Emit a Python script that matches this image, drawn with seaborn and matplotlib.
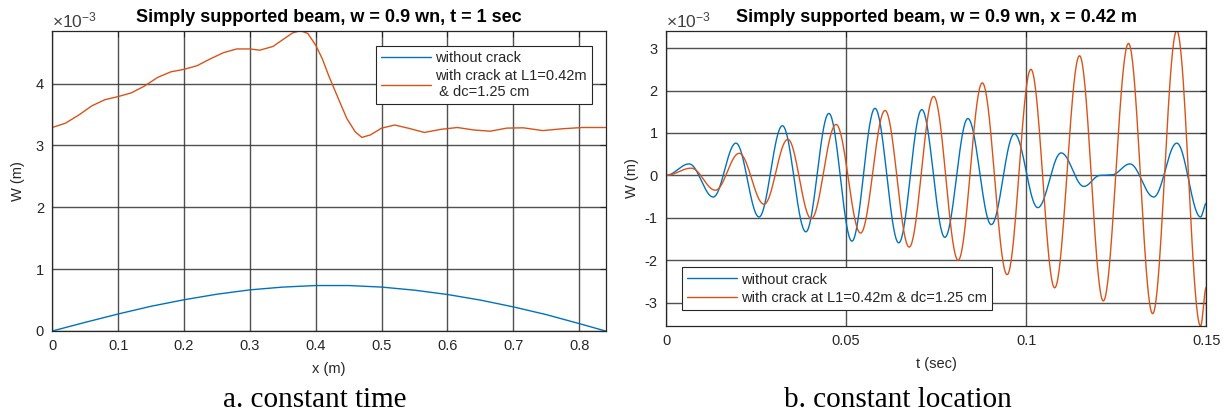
import numpy as np
import pandas as pd
import matplotlib
matplotlib.use("Agg")
import matplotlib.pyplot as plt
import seaborn as sns

# ---------------- data (W in units of 1e-3 m) ----------------
# (a) deflection along the beam at t = 1 s
x_intact = [0.0, 0.05, 0.10, 0.15, 0.20, 0.25, 0.30, 0.35, 0.40, 0.45,
            0.50, 0.55, 0.60, 0.65, 0.70, 0.75, 0.80, 0.84]
w_intact = [0.0, 0.14, 0.275, 0.40, 0.505, 0.595, 0.665, 0.71, 0.735, 0.735,
            0.71, 0.66, 0.59, 0.50, 0.39, 0.265, 0.12, 0.0]

x_cracked = [0.0, 0.02, 0.04, 0.06, 0.08, 0.10, 0.12, 0.14, 0.16, 0.18,
             0.20, 0.22, 0.24, 0.26, 0.28, 0.30, 0.315, 0.335, 0.35, 0.365,
             0.377, 0.388, 0.40, 0.41, 0.42, 0.435, 0.447, 0.46, 0.47, 0.483,
             0.50, 0.52, 0.54, 0.565, 0.59, 0.615, 0.64, 0.665, 0.69, 0.715,
             0.745, 0.775, 0.805, 0.84]
w_cracked = [3.29, 3.36, 3.49, 3.64, 3.74, 3.79, 3.85, 3.96, 4.10, 4.19,
             4.23, 4.29, 4.40, 4.50, 4.56, 4.56, 4.54, 4.60, 4.71, 4.82,
             4.855, 4.81, 4.62, 4.40, 4.12, 3.74, 3.44, 3.22, 3.13, 3.17,
             3.28, 3.33, 3.28, 3.21, 3.26, 3.29, 3.25, 3.23, 3.28, 3.285,
             3.24, 3.27, 3.29, 3.29]

# (b) time history at x = 0.42 m : turning points of each response
t_intact = [0.0, 0.0064, 0.0131, 0.0194, 0.0258, 0.0323, 0.0388, 0.0452, 0.0516,
            0.0580, 0.0646, 0.0710, 0.0774, 0.0838, 0.0903, 0.0967, 0.1032,
            0.1097, 0.1160, 0.1205, 0.1237, 0.1288, 0.1354, 0.1418, 0.1484, 0.1500]
wt_intact = [0.0, 0.27, -0.51, 0.76, -0.98, 1.17, -1.33, 1.46, -1.55,
             1.58, -1.59, 1.55, -1.46, 1.34, -1.16, 0.98, -0.76,
             0.53, -0.26, 0.0, 0.01, 0.27, -0.51, 0.76, -0.98, -0.66]

t_cracked = [0.0, 0.0070, 0.0137, 0.0203, 0.0272, 0.0338, 0.0403, 0.0472, 0.0540,
             0.0608, 0.0675, 0.0743, 0.0811, 0.0878, 0.0947, 0.1013, 0.1079,
             0.1148, 0.1214, 0.1284, 0.1351, 0.1418, 0.1484, 0.1500]
wt_cracked = [0.0, 0.17, -0.35, 0.52, -0.68, 0.85, -1.02, 1.20, -1.36,
              1.53, -1.69, 1.86, -2.00, 2.18, -2.34, 2.50, -2.65,
              2.82, -2.96, 3.11, -3.26, 3.41, -3.55, -2.64]

label_intact = "without crack"
label_cracked_a = "with crack at L1=0.42m\n & dc=1.25 cm"
label_cracked_b = "with crack at L1=0.42m & dc=1.25 cm"

xticks_a = [0, 0.1, 0.2, 0.3, 0.4, 0.5, 0.6, 0.7, 0.8]
xtick_labels_a = ["0", "0.1", "0.2", "0.3", "0.4", "0.5", "0.6", "0.7", "0.8"]
yticks_a = [0, 1, 2, 3, 4]
xticks_b = [0, 0.05, 0.1, 0.15]
xtick_labels_b = ["0", "0.05", "0.1", "0.15"]
yticks_b = [-3, -2, -1, 0, 1, 2, 3]

BLUE = "#0072BD"
ORANGE = "#D95319"
INK = "#262626"


def smooth_through(tk, wk, n=40):
    """Join successive turning points with half-cosine arcs."""
    ts, ws = [], []
    for i in range(len(tk) - 1):
        s = np.linspace(0.0, 1.0, n, endpoint=False)
        ts.append(tk[i] + (tk[i + 1] - tk[i]) * s)
        ws.append(wk[i] + (wk[i + 1] - wk[i]) * (1 - np.cos(np.pi * s)) / 2)
    ts.append([tk[-1]])
    ws.append([wk[-1]])
    return np.concatenate(ts), np.concatenate(ws)


# ---------------- style ----------------
sns.set_style("white")
plt.rcParams.update({
    "font.family": ["Liberation Sans", "DejaVu Sans"],
    "axes.unicode_minus": False,
    "mathtext.fontset": "custom",
    "mathtext.rm": "Liberation Sans",
    "mathtext.it": "Liberation Sans:italic",
    "mathtext.bf": "Liberation Sans:bold",
})

FW, FH = 1228, 416
fig = plt.figure(figsize=(FW / 100, FH / 100), dpi=100)
ax_a = fig.add_axes([52.3 / FW, (FH - 331) / FH, (605.5 - 52.3) / FW, (331 - 30.7) / FH])
ax_b = fig.add_axes([666.1 / FW, (FH - 326) / FH, (1206.3 - 666.1) / FW, (326 - 30.7) / FH])


def style_axes(ax):
    for sp in ax.spines.values():
        sp.set_color(INK)
        sp.set_linewidth(0.9)
    ax.tick_params(direction="in", length=4, width=0.8, colors=INK,
                   labelsize=10.5, top=True, right=True, pad=6)
    ax.grid(True, color="#333333", lw=1.0, alpha=0.85)
    ax.set_axisbelow(True)


def exponent_label(ax):
    ax.text(0.0, 1.0, r"$\mathregular{\times10^{-3}}$", transform=ax.transAxes,
            ha="left", va="bottom", fontsize=12.5, color="#404040")


# ---------------- (a) constant time ----------------
df_a1 = pd.DataFrame({"x": x_intact, "W": w_intact})
df_a2 = pd.DataFrame({"x": x_cracked, "W": w_cracked})
sns.lineplot(data=df_a1, x="x", y="W", ax=ax_a, color=BLUE, lw=1.0,
             estimator=None, label=label_intact)
sns.lineplot(data=df_a2, x="x", y="W", ax=ax_a, color=ORANGE, lw=1.0,
             estimator=None, label=label_cracked_a)
ax_a.set_xlim(0, 0.84)
ax_a.set_ylim(0, max(w_cracked))
ax_a.set_xticks(xticks_a)
ax_a.set_xticklabels(xtick_labels_a)
ax_a.set_yticks(yticks_a)
style_axes(ax_a)
ax_a.set_title("Simply supported beam, w = 0.9 wn, t = 1 sec",
               fontsize=13, fontweight="bold", color="black", pad=6)
ax_a.set_xlabel("x (m)", fontsize=10.5, color=INK, labelpad=6)
ax_a.set_ylabel("W (m)", fontsize=10.5, color=INK, labelpad=8)
exponent_label(ax_a)
leg = ax_a.legend(loc="upper right", bbox_to_anchor=(0.975, 0.950),
                  borderaxespad=0, fontsize=10.5, frameon=True, fancybox=False,
                  framealpha=1, edgecolor=INK, handlelength=3.4,
                  handletextpad=0.3, borderpad=0.35, labelspacing=0.3)
leg.get_frame().set_linewidth(0.8)

# ---------------- (b) constant location ----------------
tb1, wb1 = smooth_through(t_intact, wt_intact)
tb2, wb2 = smooth_through(t_cracked, wt_cracked)
df_b1 = pd.DataFrame({"t": tb1, "W": wb1})
df_b2 = pd.DataFrame({"t": tb2, "W": wb2})
sns.lineplot(data=df_b1, x="t", y="W", ax=ax_b, color=BLUE, lw=1.0,
             estimator=None, sort=False, label=label_intact)
sns.lineplot(data=df_b2, x="t", y="W", ax=ax_b, color=ORANGE, lw=1.0,
             estimator=None, sort=False, label=label_cracked_b)
ax_b.set_xlim(0, 0.15)
ax_b.set_ylim(min(wt_cracked), max(wt_cracked))
ax_b.set_xticks(xticks_b)
ax_b.set_xticklabels(xtick_labels_b)
ax_b.set_yticks(yticks_b)
style_axes(ax_b)
ax_b.set_title("Simply supported beam, w = 0.9 wn, x = 0.42 m",
               fontsize=13, fontweight="bold", color="black", pad=6)
ax_b.set_xlabel("t (sec)", fontsize=10.5, color=INK, labelpad=6)
ax_b.set_ylabel("W (m)", fontsize=10.5, color=INK, labelpad=4)
exponent_label(ax_b)
leg = ax_b.legend(loc="lower left", bbox_to_anchor=(0.0294, 0.054),
                  borderaxespad=0, fontsize=10.5, frameon=True, fancybox=False,
                  framealpha=1, edgecolor=INK, handlelength=3.4,
                  handletextpad=0.3, borderpad=0.35, labelspacing=0.3)
leg.get_frame().set_linewidth(0.8)

# ---------------- captions ----------------
fig.text(315 / FW, 1 - 400 / FH, "a. constant time", ha="center", va="center",
         fontsize=21, family=["Liberation Serif", "DejaVu Serif"], color="black")
fig.text(898 / FW, 1 - 400 / FH, "b. constant location", ha="center", va="center",
         fontsize=21, family=["Liberation Serif", "DejaVu Serif"], color="black")

fig.savefig("out.png", dpi=100, facecolor="white")
